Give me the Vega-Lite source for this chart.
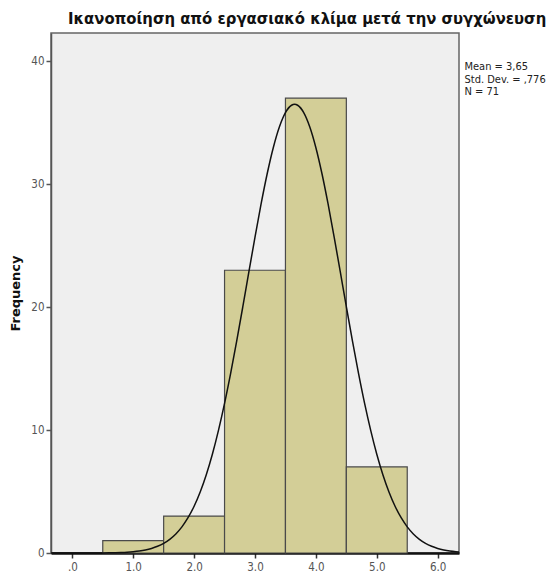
{
  "$schema": "https://vega.github.io/schema/vega-lite/v6.json",
  "autosize": "none",
  "width": 408,
  "height": 520,
  "padding": {"left": 51, "top": 33, "right": 92, "bottom": 22},
  "background": "white",
  "title": {
    "text": "Ικανοποίηση από εργασιακό κλίμα μετά την συγχώνευση",
    "font": "DejaVu Sans Condensed",
    "fontSize": 16.5,
    "fontWeight": "bold",
    "color": "#111111",
    "anchor": "start",
    "frame": "group",
    "dx": 17,
    "offset": 6
  },
  "config": {
    "view": {"fill": "#EFEFEF", "stroke": "#666666", "strokeWidth": 1.5},
    "axis": {
      "labelFont": "DejaVu Sans Condensed",
      "labelFontSize": 11.5,
      "labelColor": "#555555",
      "titleFont": "DejaVu Sans",
      "grid": false
    }
  },
  "datasets": {
    "bins": [
      {"bin_start": 0.5, "bin_end": 1.5, "count": 1},
      {"bin_start": 1.5, "bin_end": 2.5, "count": 3},
      {"bin_start": 2.5, "bin_end": 3.5, "count": 23},
      {"bin_start": 3.5, "bin_end": 4.5, "count": 37},
      {"bin_start": 4.5, "bin_end": 5.5, "count": 7}
    ],
    "curve": [
      {"x": -0.35, "y": 0},
      {"x": 0.0, "y": 0.0001},
      {"x": 0.5, "y": 0.0096},
      {"x": 0.6, "y": 0.016},
      {"x": 0.8, "y": 0.043},
      {"x": 0.9, "y": 0.068},
      {"x": 1.0, "y": 0.107},
      {"x": 1.1, "y": 0.165},
      {"x": 1.2, "y": 0.25},
      {"x": 1.3, "y": 0.372},
      {"x": 1.4, "y": 0.546},
      {"x": 1.5, "y": 0.786},
      {"x": 1.6, "y": 1.114},
      {"x": 1.7, "y": 1.553},
      {"x": 1.8, "y": 2.128},
      {"x": 1.9, "y": 2.87},
      {"x": 2.0, "y": 3.806},
      {"x": 2.1, "y": 4.965},
      {"x": 2.2, "y": 6.369},
      {"x": 2.3, "y": 8.037},
      {"x": 2.4, "y": 9.974},
      {"x": 2.5, "y": 12.173},
      {"x": 2.6, "y": 14.613},
      {"x": 2.7, "y": 17.252},
      {"x": 2.8, "y": 20.033},
      {"x": 2.9, "y": 22.881},
      {"x": 3.0, "y": 25.701},
      {"x": 3.1, "y": 28.394},
      {"x": 3.2, "y": 30.851},
      {"x": 3.3, "y": 32.97},
      {"x": 3.4, "y": 34.654},
      {"x": 3.5, "y": 35.824},
      {"x": 3.6, "y": 36.424},
      {"x": 3.65, "y": 36.5},
      {"x": 3.7, "y": 36.424},
      {"x": 3.8, "y": 35.824},
      {"x": 3.9, "y": 34.654},
      {"x": 4.0, "y": 32.97},
      {"x": 4.1, "y": 30.851},
      {"x": 4.2, "y": 28.394},
      {"x": 4.3, "y": 25.701},
      {"x": 4.4, "y": 22.881},
      {"x": 4.5, "y": 20.033},
      {"x": 4.6, "y": 17.252},
      {"x": 4.7, "y": 14.613},
      {"x": 4.8, "y": 12.173},
      {"x": 4.9, "y": 9.974},
      {"x": 5.0, "y": 8.037},
      {"x": 5.1, "y": 6.369},
      {"x": 5.2, "y": 4.965},
      {"x": 5.3, "y": 3.806},
      {"x": 5.4, "y": 2.87},
      {"x": 5.5, "y": 2.128},
      {"x": 5.6, "y": 1.553},
      {"x": 5.7, "y": 1.114},
      {"x": 5.8, "y": 0.786},
      {"x": 5.9, "y": 0.546},
      {"x": 6.0, "y": 0.372},
      {"x": 6.1, "y": 0.25},
      {"x": 6.2, "y": 0.165},
      {"x": 6.3, "y": 0.107},
      {"x": 6.35, "y": 0.086}
    ]
  },
  "layer": [
    {
      "data": {"name": "bins"},
      "mark": {"type": "rect", "fill": "#D3CE97", "stroke": "#4A4A4A", "strokeWidth": 1.2},
      "encoding": {
        "x": {
          "field": "bin_start",
          "type": "quantitative",
          "scale": {"domain": [-0.35, 6.35], "nice": false, "zero": false},
          "axis": {
            "values": [0, 1, 2, 3, 4, 5, 6],
            "labelExpr": "datum.value == 0 ? '.0' : format(datum.value, '.1f')",
            "title": null,
            "domainColor": "#111111",
            "domainWidth": 2.5,
            "tickColor": "#333333",
            "tickWidth": 1.5,
            "tickSize": 5,
            "labelPadding": 3
          }
        },
        "x2": {"field": "bin_end"},
        "y": {
          "field": "count",
          "type": "quantitative",
          "scale": {"domain": [0, 42.3], "nice": false},
          "axis": {
            "values": [0, 10, 20, 30, 40],
            "title": "Frequency",
            "titleFontSize": 13,
            "titleFontWeight": "bold",
            "titleColor": "#111111",
            "titlePadding": 8,
            "domainColor": "#555555",
            "domainWidth": 1.5,
            "tickColor": "#555555",
            "tickWidth": 1.5,
            "tickSize": 5,
            "labelPadding": 2
          }
        },
        "y2": {"datum": 0}
      }
    },
    {
      "data": {"name": "curve"},
      "mark": {"type": "line", "color": "#111111", "strokeWidth": 1.5, "interpolate": "monotone"},
      "encoding": {
        "x": {"field": "x", "type": "quantitative"},
        "y": {"field": "y", "type": "quantitative"}
      }
    },
    {
      "data": {"values": [{"line": "Mean = 3,65\nStd. Dev. = ,776\nN = 71"}]},
      "mark": {
        "type": "text",
        "align": "left",
        "baseline": "top",
        "font": "DejaVu Sans Condensed",
        "fontSize": 11,
        "lineHeight": 12.5,
        "lineBreak": "\n",
        "color": "#222222",
        "clip": false
      },
      "encoding": {
        "x": {"datum": 6.44},
        "y": {"datum": 40.0},
        "text": {"field": "line"}
      }
    }
  ]
}
